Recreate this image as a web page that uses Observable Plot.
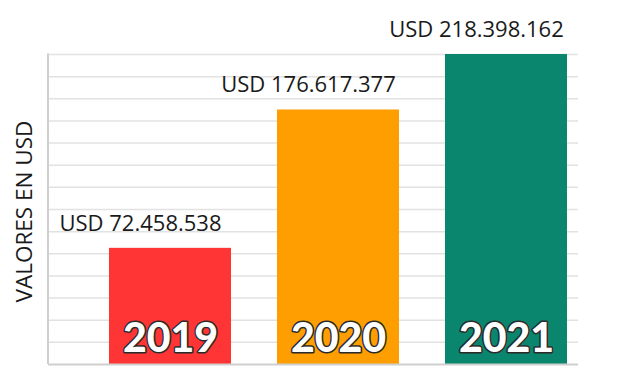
<!DOCTYPE html>
<html><head><meta charset="utf-8">
<script src="https://cdn.jsdelivr.net/npm/d3@7"></script>
<script src="https://cdn.jsdelivr.net/npm/@observablehq/plot@0.6"></script>
<style>body{margin:0;background:#fff}</style>
</head><body><div id="chart"></div>
<script>
const years = ["2019", "2020", "2021"];
const values = [72458538, 176617377, 218398162];
const labels = ["USD 72.458.538", "USD 176.617.377", "USD 218.398.162"];
const colors = ["#FF3535", "#FF9E00", "#0A866E"];
const axisTitle = "VALORES EN USD";
const yBase = -15000000;   // visual baseline of the original graphic
const gridCount = 14;

const data = years.map((y, i) => ({year: y, value: values[i], label: labels[i], color: colors[i]}));
const yMax = d3.max(values);
const grid = d3.range(gridCount + 1).map(i => yBase + i * (yMax - yBase) / gridCount);

const leftLine = (index, scales, values, dim) => {
  const l = d3.create("svg:line")
    .attr("x1", dim.marginLeft).attr("x2", dim.marginLeft)
    .attr("y1", dim.marginTop - 0.5).attr("y2", dim.height - dim.marginBottom)
    .attr("stroke", "#cfcfcf").attr("stroke-width", 2);
  return l.node();
};

const chart = Plot.plot({
  width: 617, height: 377,
  marginLeft: 48, marginRight: 39, marginTop: 54, marginBottom: 13,
  style: {background: "#fff", fontFamily: "'Open Sans', sans-serif", overflow: "visible"},
  x: {domain: years, range: [109, 567], paddingInner: 0.274, paddingOuter: 0, axis: null},
  y: {domain: [yBase, yMax], axis: null},
  marks: [
    Plot.ruleY(grid.slice(1), {y: d => d, stroke: "#e2e2e2", strokeWidth: 1.5}),
    Plot.barY(data, {x: "year", y1: yBase, y2: "value", fill: "color"}),
    Plot.ruleY([yBase], {stroke: "#cfcfcf", strokeWidth: 2}),
    leftLine,
    Plot.text(data, {x: "year", y: "value", text: "label", dx: -30, dy: -17.5, lineAnchor: "bottom",
      fontSize: 22, fontWeight: 500, fill: "#1a1a1a", fontFamily: "'Open Sans', sans-serif"}),
    Plot.text(data, {x: "year", y: yBase, text: "year", dy: -13, lineAnchor: "bottom",
      fontSize: 41, fontWeight: 900, fontFamily: "Lato, 'Roboto', sans-serif",
      fill: "#ffffff", stroke: "#2a2a2a", strokeWidth: 3, paintOrder: "stroke"}),
    Plot.text([axisTitle], {frameAnchor: "left", dx: -23.3, dy: 2, rotate: -90, lineAnchor: "middle",
      textAnchor: "middle", fontSize: 22.5, fill: "#1a1a1a", fontFamily: "'Open Sans', sans-serif"})
  ]
});
document.getElementById("chart").appendChild(chart);
</script>
</body></html>
